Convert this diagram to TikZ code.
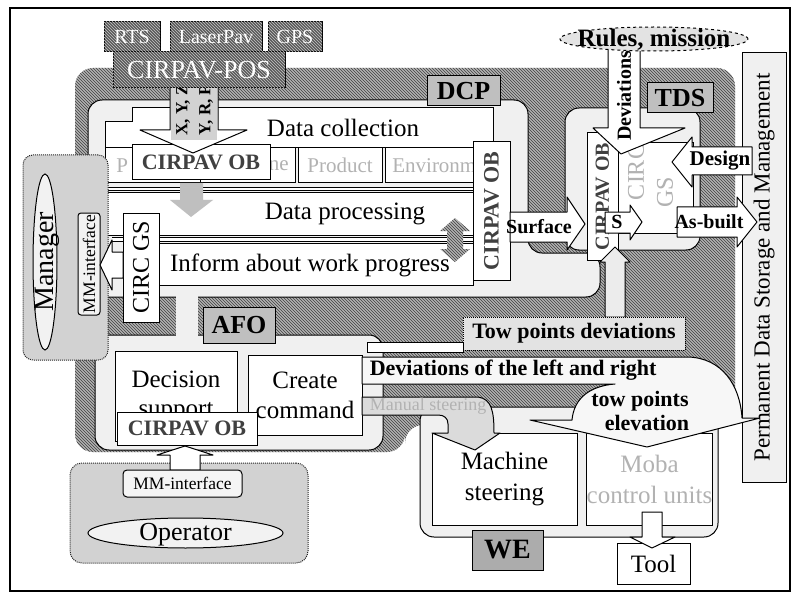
\documentclass[tikz,border=0pt]{standalone}
\usepackage{fontspec}
\setmainfont{Liberation Serif}
\usetikzlibrary{patterns,shapes.geometric}

\newcommand{\fsz}[1]{\fontsize{#1}{#1}\selectfont}
\newcommand{\flatbox}[1]{\makebox[0pt]{\smash{\raisebox{-0.3em}{#1}}}}

\tikzset{
  hatched/.style={fill=gray!60, postaction={pattern=north west lines, pattern color=black!75}},
  lightreg/.style={draw, fill=gray!12, rounded corners=14},
  box/.style={draw, fill=white, inner sep=0pt},
  tag/.style={draw, fill=gray!50, inner sep=0pt, font=\fsz{26}\bfseries},
  srcbox/.style={draw, fill=gray!70!black, text=white, inner sep=0pt,
    postaction={pattern=north west lines, pattern color=gray!45}},
  obtext/.style={text=gray!50!black, font=\fsz{22}\bfseries},
  faint/.style={text=gray!60},
  blockw/.style={draw, fill=white, line join=round},
  blockg/.style={draw, fill=gray!28, line join=round},
  bigtext/.style={font=\fsz{25}},
}

\begin{document}
\begin{tikzpicture}[x=1pt, y=-1pt, line width=1pt]
  \useasboundingbox (0,0) rectangle (793,599);

  % -- Frame --
  \draw[line width=1.2pt] (10,8) rectangle (790,591);

  % -- Shared background --
  \path[hatched, rounded corners=18] (75,68) -- (735,68) -- (735,425) -- (405,425)
    -- (405,452) -- (75,452) -- cycle;

  % -- DCP, TDS, AFO and WE areas --
  \draw[lightreg] (88,100) -- (528,100) -- (528,253) -- (600,253) -- (600,297)
    -- (88,297) -- cycle;
  \draw[lightreg] (565,108) rectangle (700,250);
  \draw[lightreg] (95,335) rectangle (383,450);
  \fill[gray!12] (176,284) rectangle (198,337);
  \draw[lightreg] (420,407) rectangle (718,537);

  % -- Permanent storage --
  \node[box, fill=gray!12, rotate=90, minimum width=429, minimum height=44,
    font=\fsz{23}] (perm) at (764,267.5) {Permanent Data Storage and Management};

  % -- Data collection --
  \draw[box] (105,122) -- (132,122) -- (132,108) -- (493,108) -- (493,148)
    -- (105,148) -- cycle;
  \node[bigtext] (dcol) at (343,128) {Data collection};
  \node[box, minimum width=95, minimum height=35] (proc) at (152.5,165.5) {};
  \node[faint, font=\fsz{21}, anchor=west] (proct) at ([xshift=8]proc.west) {P};
  \node[box, minimum width=95, minimum height=35] (mach) at (247.5,165.5) {};
  \node[faint, font=\fsz{21}, anchor=east] (macht) at ([xshift=-3]mach.east) {ne};
  \node[box, minimum width=84, minimum height=35] (prod) at (340,165.5) {};
  \node[faint, font=\fsz{21}] (prodt) at (prod) {Product};
  \node[box, minimum width=88, minimum height=35] (env) at (429,165.5) {};
  \node[faint, font=\fsz{21}, anchor=west] (envt) at ([xshift=4]env.west) {Environm};

  % -- Data processing --
  \draw[double, double distance=2.5pt] (105,189) -- (473,189);
  \node[box, minimum width=368, minimum height=43] (dproc) at (289,214) {};
  \node[bigtext] (dproct) at (345,214) {Data processing};
  \draw[double, double distance=2.5pt] (112,239.5) -- (473,239.5);
  \node[box, minimum width=314, minimum height=42] (inform) at (316,264) {};
  \node[bigtext] (informt) at (310,265) {Inform about work progress};
  \fill[gray!50] (180,183) -- (203,183) -- (203,200) -- (213,200) -- (191,217)
    -- (170,200) -- (180,200) -- cycle;
  \path[hatched] (455,218) -- (470,231) -- (463,231) -- (463,249) -- (470,249)
    -- (455,262) -- (440,249) -- (447,249) -- (447,231) -- (440,231) -- cycle;
  \node[box, minimum width=138, minimum height=35, obtext] (ob1) at (201,162.5) {CIRPAV OB};
  \node[box, rotate=90, minimum width=138, minimum height=37, obtext] (ob2) at (491.5,211) {CIRPAV OB};

  % -- Positioning input --
  \draw[blockw] (170,80) -- (218,80) -- (218,130) -- (247,130) -- (193,153)
    -- (140,130) -- (170,130) -- cycle;
  \fill[gray!35] (171,80) rectangle (217,140);
  \node[rotate=90, font=\fsz{17}\bfseries] (xyz) at (183,110) {X, Y, Z};
  \node[rotate=90, font=\fsz{17}\bfseries] (yrp) at (206,110) {Y, R, P};
  \node[srcbox, minimum width=56, minimum height=30, font=\fsz{20}] (rts) at (132,37) {RTS};
  \node[srcbox, minimum width=92, minimum height=30, font=\fsz{20}] (laser) at (216,37) {LaserPav};
  \node[srcbox, minimum width=54, minimum height=30, font=\fsz{20}] (gps) at (295,37) {GPS};
  \node[srcbox, minimum width=172, minimum height=36, font=\fsz{26}] (pos) at (199,70) {CIRPAV-POS};

  % -- Manager --
  \node[draw=gray!30!black, densely dotted, fill=gray!35, rounded corners=10,
    minimum width=85, minimum height=205] (mgrreg) at (65.5,257.5) {};
  \node[ellipse, draw, fill=gray!10, rotate=90, minimum width=176, minimum height=24,
    inner sep=0pt, font=\fsz{28}] (mgr) at (45,262) {\flatbox{Manager}};
  \node[draw, fill=gray!10, rounded corners=3, rotate=90, minimum width=102,
    minimum height=22, inner sep=0pt, font=\fsz{17.5}] (mm1) at (89,264) {MM-interface};
  \node[box, rotate=90, minimum width=109, minimum height=36, font=\fsz{24}] (gs1) at (141,267.5) {CIRC GS};
  \draw[blockw] (123,252) -- (112,252) -- (112,240) -- (100,265) -- (112,290)
    -- (112,278) -- (123,278) -- cycle;

  % -- TDS --
  \node[box, rotate=90, minimum width=127, minimum height=31, obtext,
    font=\fsz{20}\bfseries] (ob3) at (602.5,196.5) {CIRPAV OB};
  \node[box, minimum width=75, minimum height=90] (gs2) at (655.5,188) {};
  \node[rotate=90, faint, font=\fsz{24}] (gs2a) at (636,172) {CIRC};
  \node[rotate=90, faint, font=\fsz{24}] (gs2b) at (665,192) {GS};
  \draw[blockw] (608,45) -- (640,45) -- (640,128) -- (685,128) -- (621,154)
    -- (593,128) -- (608,128) -- cycle;
  \node[ellipse, draw, dashed, fill=gray!22, minimum width=188, minimum height=24,
    inner sep=0pt, font=\fsz{25}\bfseries] (rules) at (654,39) {\flatbox{Rules, mission}};
  \node[rotate=90, font=\fsz{20}\bfseries] (devt) at (624,96) {Deviations};
  \draw[blockw] (510,212) -- (567,212) -- (567,197) -- (585,224) -- (567,250)
    -- (567,242) -- (510,242) -- cycle;
  \node[font=\fsz{20}\bfseries] (surft) at (539,227) {Surface};
  \draw[blockw] (605,212) -- (630,212) -- (630,205) -- (642,222) -- (630,240)
    -- (630,233) -- (605,233) -- cycle;
  \node[font=\fsz{20}\bfseries] (st) at (617,222) {S};
  \draw[blockw] (752,147) -- (692,147) -- (692,137) -- (672,162) -- (692,187)
    -- (692,175) -- (752,175) -- cycle;
  \node[font=\fsz{21}\bfseries] (dest) at (720,161) {Design};
  \draw[blockw] (677,207) -- (737,207) -- (737,197) -- (757,222) -- (737,247)
    -- (737,237) -- (677,237) -- cycle;
  \node[font=\fsz{20}\bfseries] (asbt) at (709,222) {As-built};
  \node[tag] (dcp) [minimum width=73, minimum height=30] at (463.5,91) {DCP};
  \node[tag] (tds) [minimum width=66, minimum height=30] at (680,98) {TDS};

  % -- Tow point deviations --
  \draw[blockw, fill=gray!15] (605,317) -- (605,262) -- (600,262) -- (615,247)
    -- (630,262) -- (625,262) -- (625,317) -- cycle;
  \node[draw, densely dotted, fill=gray!22, minimum width=222, minimum height=33,
    inner sep=0pt, font=\fsz{22}\bfseries] (towdev) at (574,333.5) {Tow points deviations};
  \draw[box] (367,342) rectangle (463,352);

  % -- AFO --
  \node[tag, minimum width=72, minimum height=36] (afo) at (239,325) {AFO};
  \node[box, minimum width=122, minimum height=90, align=center,
    font=\fontsize{25}{29}\selectfont] (dec) at (176,396) {Decision\\support};
  \node[box, minimum width=114, minimum height=80, align=center,
    font=\fontsize{25}{30}\selectfont] (cmd) at (305,395) {Create\\command};
  \node[box, minimum width=140, minimum height=33, obtext] (ob4) at (187,428.5) {CIRPAV OB};

  % -- Operator --
  \node[draw=gray!30!black, densely dotted, fill=gray!35, rounded corners=12,
    minimum width=238, minimum height=100] (opreg) at (189,513) {};
  \draw[blockw] (170,470) -- (170,455) -- (157,455) -- (185,446) -- (213,455)
    -- (200,455) -- (200,470) -- cycle;
  \node[draw, fill=gray!8, rounded corners=4, minimum width=119, minimum height=27,
    inner sep=0pt, font=\fsz{17.5}] (mm2) at (182.5,483.5) {MM-interface};
  \node[ellipse, draw, fill=gray!10, minimum width=195, minimum height=30,
    inner sep=0pt, font=\fsz{26}] (oper) at (185.5,533) {\flatbox{Operator}};

  % -- WE --
  \node[box, minimum width=145, minimum height=92, align=center,
    font=\fontsize{25}{31}\selectfont] (mst) at (504.5,479) {Machine\\steering};
  \node[box, minimum width=125, minimum height=92, align=center, text=gray!60,
    font=\fontsize{25}{31}\selectfont] (moba) at (649.5,479) {Moba\\control units};
  \draw[blockg] (362,397) -- (478,397) .. controls (492,399) and (494,412) .. (494,433)
    -- (500,433) -- (475,450) -- (432,433) -- (448,433) -- (448,424)
    .. controls (448,418) and (444,415) .. (438,415) -- (362,415) -- cycle;
  \node[faint, font=\fsz{18}, anchor=west] (manst) at (366,406) {Manual steering};
  \draw[blockw, fill=gray!6] (362,357) -- (688,357) .. controls (722,358) and (740,385) .. (742,418)
    -- (760,418) -- (647,447) -- (530,420) -- (572,420)
    .. controls (574,398) and (590,386) .. (615,384) -- (362,384) -- cycle;
  \node[font=\fsz{22}\bfseries, anchor=west] (devlr) at (366,370) {Deviations of the left and right};
  \node[font=\fsz{22}\bfseries] (towp) at (640,401) {tow points};
  \node[font=\fsz{22}\bfseries] (elev) at (647,423) {elevation};
  \node[box, minimum width=73, minimum height=41, font=\fsz{25}] (tool) at (653.5,564) {Tool};
  \draw[blockw] (642,512) -- (662,512) -- (662,537) -- (675,537) -- (652,548)
    -- (630,537) -- (642,537) -- cycle;
  \node[tag, fill=gray!65, minimum width=71, minimum height=40, font=\fsz{28}\bfseries] (we) at (507.5,550) {WE};
\end{tikzpicture}
\end{document}
